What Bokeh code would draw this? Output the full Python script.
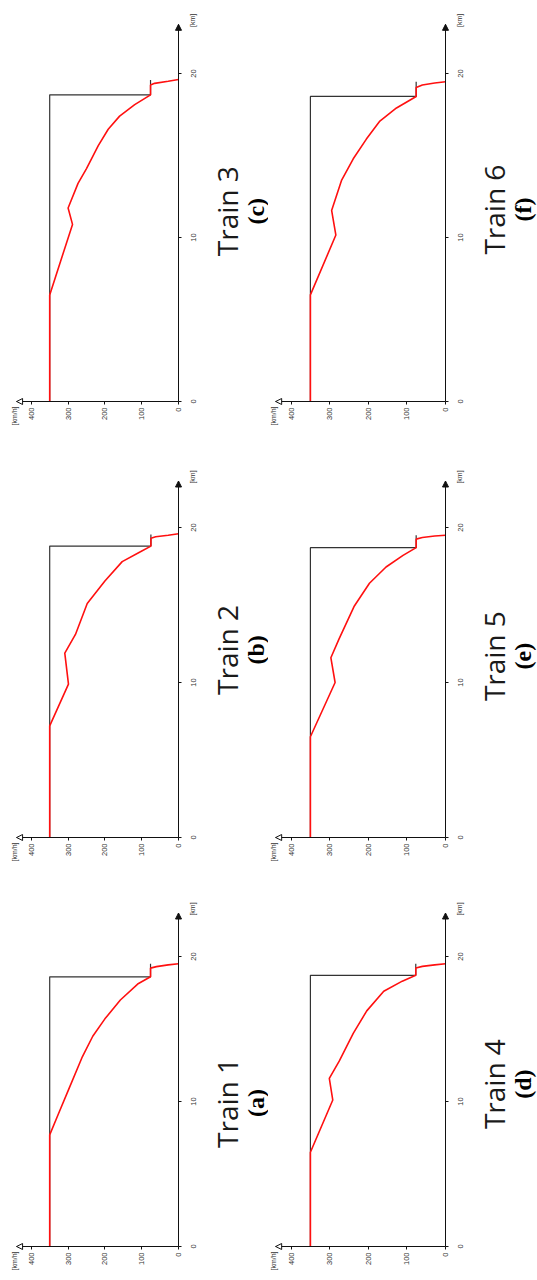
import math
from bokeh.plotting import figure
from bokeh.models import Range1d, FixedTicker, Label, Arrow, NormalHead
from bokeh.layouts import column, row
from bokeh.embed import file_html
from bokeh.resources import INLINE

# ---------------- data ----------------
speed_ticks = [0, 100, 200, 300, 400]
dist_ticks = [0, 10, 20]
speed_axis_end = 440
dist_axis_end = 23

# Train 1 (a)
t1_limit_dist = [0, 18.6, 18.6, 19.5]
t1_limit_speed = [350, 350, 76, 76]
t1_dist = [0, 7.7, 9.1, 10.8, 13.1, 14.5, 15.7, 17.0, 18.1, 18.6, 19.2, 19.3, 19.42, 19.5]
t1_speed = [350, 350, 327, 299, 261, 233, 200, 158, 111, 76, 76, 60, 28, 0]

# Train 2 (b)
t2_limit_dist = [0, 18.8, 18.8, 19.55]
t2_limit_speed = [350, 350, 75, 75]
t2_dist = [0, 7.2, 9.9, 11.9, 13.1, 15.1, 16.55, 17.8, 18.4, 18.8, 19.3, 19.4, 19.5, 19.6]
t2_speed = [350, 350, 299, 309, 280, 248, 200, 153, 106, 75, 75, 62, 28, 0]

# Train 3 (c)
t3_limit_dist = [0, 18.7, 18.7, 19.6]
t3_limit_speed = [350, 350, 76, 76]
t3_dist = [0, 6.5, 10.8, 11.8, 13.3, 14.2, 15.6, 16.6, 17.4, 18.1, 18.7, 19.3, 19.4, 19.53, 19.63]
t3_speed = [350, 350, 288, 300, 273, 250, 218, 191, 160, 119, 76, 76, 65, 28, 0]

# Train 4 (d)
t4_limit_dist = [0, 18.7, 18.7, 19.5]
t4_limit_speed = [350, 350, 77, 77]
t4_dist = [0, 6.5, 10.1, 11.6, 12.8, 14.7, 16.25, 17.6, 18.3, 18.7, 19.2, 19.32, 19.42, 19.5]
t4_speed = [350, 350, 292, 301, 275, 239, 204, 160, 112, 77, 77, 60, 28, 0]

# Train 5 (e)
t5_limit_dist = [0, 18.7, 18.7, 19.5]
t5_limit_speed = [350, 350, 76, 76]
t5_dist = [0, 6.5, 10.0, 11.6, 12.8, 14.9, 16.4, 17.45, 18.2, 18.7, 19.25, 19.35, 19.45, 19.5]
t5_speed = [350, 350, 286, 297, 276, 237, 197, 154, 110, 76, 76, 60, 28, 0]

# Train 6 (f)
t6_limit_dist = [0, 18.6, 18.6, 19.5]
t6_limit_speed = [350, 350, 76, 76]
t6_dist = [0, 6.5, 10.15, 11.65, 13.5, 14.8, 16.0, 17.1, 17.9, 18.6, 19.15, 19.3, 19.42, 19.5]
t6_speed = [350, 350, 284, 295, 269, 239, 205, 170, 127, 76, 76, 60, 28, 0]

titles = ["Train 1", "Train 2", "Train 3", "Train 4", "Train 5", "Train 6"]
letters = ["(a)", "(b)", "(c)", "(d)", "(e)", "(f)"]

# ---------------- layout (pixels) ----------------
# columns: figure width, x of the speed-0 axis inside the figure, px per km/h
COLS = [dict(width=268, origin=178, scale=0.368),
        dict(width=269, origin=177, scale=0.386)]
# rows: figure height, y of the distance-0 axis from the figure top, px per km
ROWS = [dict(height=450, origin=401, scale=16.4),
        dict(height=436, origin=387, scale=15.5),
        dict(height=394, origin=360, scale=14.5)]

AXIS_COLOR = "#111111"
TICK_FONT = "Liberation Sans"


def make_panel(idx, col, rw, limit_d, limit_v, red_d, red_v, title_pos):
    c = COLS[col]
    r = ROWS[rw]
    x_rng = Range1d(c["origin"] / c["scale"], -(c["width"] - c["origin"]) / c["scale"])
    y_rng = Range1d(-(r["height"] - r["origin"]) / r["scale"], r["origin"] / r["scale"])
    p = figure(width=c["width"], height=r["height"], x_range=x_rng, y_range=y_rng,
               x_axis_location="below", y_axis_location="left",
               output_backend="svg", toolbar_location=None,
               min_border_left=0, min_border_right=0, min_border_top=0, min_border_bottom=0)
    p.outline_line_color = None
    p.grid.visible = False
    p.background_fill_color = "white"
    p.border_fill_color = "white"

    # speed axis (drawn at distance 0, labels below)
    xa = p.xaxis[0]
    xa.ticker = FixedTicker(ticks=speed_ticks)
    xa.fixed_location = 0
    xa.bounds = (0, speed_axis_end)
    xa.major_label_orientation = math.pi / 2
    xa.major_tick_out = 3
    xa.major_tick_in = 0
    xa.major_label_standoff = 3

    # distance axis (drawn at speed 0, labels to its right)
    ya = p.yaxis[0]
    ya.ticker = FixedTicker(ticks=dist_ticks)
    ya.fixed_location = 0
    ya.bounds = (0, dist_axis_end)
    ya.major_label_orientation = "vertical"
    ya.major_tick_out = 0
    ya.major_tick_in = 3
    ya.major_label_standoff = -17

    for ax in (xa, ya):
        ax.minor_tick_out = 0
        ax.minor_tick_in = 0
        ax.axis_line_color = AXIS_COLOR
        ax.major_tick_line_color = AXIS_COLOR
        ax.major_label_text_font = TICK_FONT
        ax.major_label_text_font_size = "7.5px"
        ax.major_label_text_color = "#333333"

    # limit line and speed curve
    p.line(limit_v, limit_d, line_color="#333333", line_width=1.2)
    p.line(red_v, red_d, line_color="#ff1010", line_width=1.6)

    # axis arrows
    p.add_layout(Arrow(end=NormalHead(size=6, fill_color="white", line_color=AXIS_COLOR, line_width=1),
                       x_start=speed_axis_end - 8, y_start=0, x_end=speed_axis_end, y_end=0,
                       line_color=AXIS_COLOR, line_width=1))
    p.add_layout(Arrow(end=NormalHead(size=6, fill_color=AXIS_COLOR, line_color=AXIS_COLOR, line_width=1),
                       x_start=0, y_start=dist_axis_end - 0.5, x_end=0, y_end=dist_axis_end,
                       line_color=AXIS_COLOR, line_width=1))

    # unit labels
    p.add_layout(Label(x=speed_axis_end, y=0, x_offset=-2, y_offset=-5, text="[km/h]",
                       angle=math.pi / 2, text_align="right", text_baseline="middle",
                       text_font=TICK_FONT, text_font_size="7px", text_color="#333333"))
    p.add_layout(Label(x=0, y=dist_axis_end, x_offset=14, y_offset=4, text="[km]",
                       angle=math.pi / 2, text_align="center", text_baseline="middle",
                       text_font=TICK_FONT, text_font_size="7px", text_color="#333333"))

    # panel titles
    p.add_layout(Label(x=0, y=title_pos, x_offset=48, text=titles[idx],
                       angle=math.pi / 2, text_align="center", text_baseline="middle",
                       text_font="Open Sans", text_font_size="28px", text_color="#1a1a1a"))
    p.add_layout(Label(x=0, y=title_pos, x_offset=77, text=letters[idx],
                       angle=math.pi / 2, text_align="center", text_baseline="middle",
                       text_font="Liberation Serif", text_font_style="bold",
                       text_font_size="24px", text_color="#000000"))
    return p


p3 = make_panel(2, 0, 0, t3_limit_dist, t3_limit_speed, t3_dist, t3_speed, 11.6)
p6 = make_panel(5, 1, 0, t6_limit_dist, t6_limit_speed, t6_dist, t6_speed, 11.7)
p2 = make_panel(1, 0, 1, t2_limit_dist, t2_limit_speed, t2_dist, t2_speed, 12.1)
p5 = make_panel(4, 1, 1, t5_limit_dist, t5_limit_speed, t5_dist, t5_speed, 11.7)
p1 = make_panel(0, 0, 2, t1_limit_dist, t1_limit_speed, t1_dist, t1_speed, 9.9)
p4 = make_panel(3, 1, 2, t4_limit_dist, t4_limit_speed, t4_dist, t4_speed, 11.2)

layout = column(row(p3, p6), row(p2, p5), row(p1, p4))

open("out.html", "w").write(file_html(layout, INLINE))
